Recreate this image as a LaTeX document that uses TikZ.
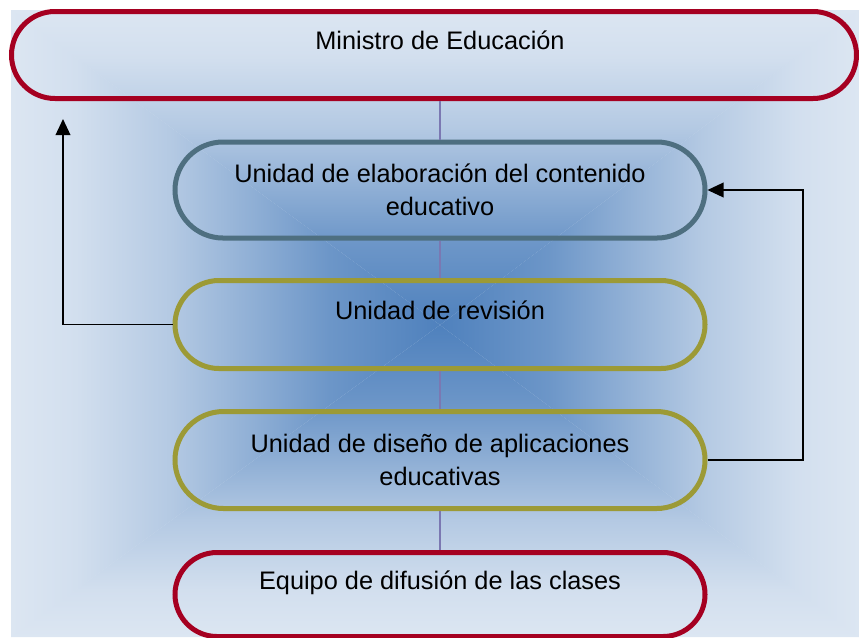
\documentclass[tikz,border=0pt]{standalone}
\usepackage{fontspec}
\setmainfont{Liberation Sans}
\usetikzlibrary{shapes.misc,arrows.meta}

\definecolor{bglight}{HTML}{DCE6F2}
\definecolor{bgdark}{HTML}{4F81BD}
\colorlet{bgA}{bgdark!7!bglight}
\colorlet{bgB}{bgdark!28!bglight}
\colorlet{bgC}{bgdark!54!bglight}
\colorlet{bgD}{bgdark!79!bglight}
\definecolor{ministry}{HTML}{A50021}
\definecolor{slate}{HTML}{4E6F80}
\definecolor{revolive}{HTML}{9C9A36}
\definecolor{linkline}{HTML}{7B78B2}

\pgfdeclareverticalshading{bgrise}{100bp}{color(0bp)=(bglight); color(25bp)=(bglight); color(32.5bp)=(bgA); color(43.5bp)=(bgB); color(53bp)=(bgC); color(62bp)=(bgD); color(75bp)=(bgdark); color(100bp)=(bgdark)}
\pgfdeclareverticalshading{bgfall}{100bp}{color(0bp)=(bgdark); color(25bp)=(bgdark); color(38bp)=(bgD); color(47bp)=(bgC); color(56.5bp)=(bgB); color(67.5bp)=(bgA); color(75bp)=(bglight); color(100bp)=(bglight)}
\pgfdeclarehorizontalshading{bgriseh}{100bp}{color(0bp)=(bglight); color(25bp)=(bglight); color(32.5bp)=(bgA); color(43.5bp)=(bgB); color(53bp)=(bgC); color(62bp)=(bgD); color(75bp)=(bgdark); color(100bp)=(bgdark)}
\pgfdeclarehorizontalshading{bgfallh}{100bp}{color(0bp)=(bgdark); color(25bp)=(bgdark); color(38bp)=(bgD); color(47bp)=(bgC); color(56.5bp)=(bgB); color(67.5bp)=(bgA); color(75bp)=(bglight); color(100bp)=(bglight)}

\begin{document}
\begin{tikzpicture}[
  x=0.75pt, y=-0.75pt,
  unit/.style={
    rounded rectangle,
    draw=#1,
    line width=3.75pt,
    minimum width=397.5pt,
    inner sep=0pt,
    align=center,
    font=\fontsize{19}{24.75}\selectfont,
  },
  one line/.style={text height=14pt, text depth=22pt},
  link/.style={draw=linkline, line width=1.1pt},
  back/.style={black, line width=1.1pt, -{Triangle[length=12pt,width=11pt]}},
  ]
  \useasboundingbox (0,0) rectangle (859,637);
  \coordinate (mid) at (440,325);
  \fill[bglight] (11,10) rectangle (859,637);
  \shade[shading=bgfall] (11,10) -- (859,10) -- (mid) -- cycle;
  \shade[shading=bgrise] (11,637) -- (859,637) -- (mid) -- cycle;
  \shade[shading=bgriseh] (11,10) -- (11,637) -- (mid) -- cycle;
  \shade[shading=bgfallh] (859,10) -- (859,637) -- (mid) -- cycle;

  \node[unit=ministry, one line, minimum width=633.75pt, minimum height=65.25pt] (ministro) at (434,55) {\hspace*{9pt}Ministro de Educación};
  \node[unit=slate, minimum height=72pt] (elab) at (440,190) {Unidad de elaboración del contenido\\educativo};
  \node[unit=revolive, one line, minimum height=66pt] (rev) at (440,324.5) {Unidad de revisión};
  \node[unit=revolive, minimum height=72.75pt] (dis) at (440,460) {Unidad de diseño de aplicaciones\\educativas};
  \node[unit=ministry, one line, minimum height=63pt] (equipo) at (440,594.5) {Equipo de difusión de las clases};

  \draw[link] (elab.north) -- (elab.north |- ministro.south);
  \draw[link] (elab.south) -- (rev.north);
  \draw[link] (rev.south) -- (dis.north);
  \draw[link] (dis.south) -- (equipo.north);

  \coordinate (left turn) at (63,119);
  \coordinate (right turn) at (803,190);
  \draw[back] (rev.west) -| (left turn);
  \draw[back] (dis.east) -| (right turn) -- (elab.east);
\end{tikzpicture}
\end{document}
